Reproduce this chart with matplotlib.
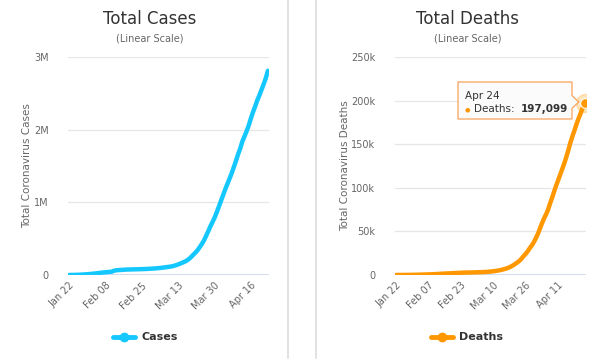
import numpy as np
import pandas as pd
import matplotlib
matplotlib.use('Agg')
import matplotlib.pyplot as plt
from matplotlib.ticker import FuncFormatter
from matplotlib.lines import Line2D
from matplotlib.patches import Polygon

plt.rcParams['font.family'] = ['DejaVu Sans']

dates = pd.date_range('2020-01-22', '2020-04-24', freq='D')

total_cases = [
    580, 845, 1317, 2015, 2800, 4581, 6058, 7813, 9823, 11950,
    14553, 17391, 20630, 24545, 28266, 31439, 34876, 37552, 40553, 43099,
    45134, 59287, 64438, 67100, 69197, 71329, 73332, 75184, 75700, 76677,
    77673, 78651, 79205, 80087, 80828, 81820, 83112, 84615, 86604, 88585,
    90443, 93016, 95314, 98425, 102050, 106099, 109991, 114381, 118948, 126214,
    134576, 145483, 156653, 169593, 182490, 198238, 218822, 244933, 275597, 305036,
    337459, 378830, 422574, 471035, 531865, 596366, 663127, 723390, 784794, 858361,
    935957, 1016128, 1095917, 1176060, 1249754, 1321481, 1396476, 1480202, 1565278, 1657526,
    1735650, 1834721, 1904838, 1976191, 2056055, 2152437, 2240190, 2317759, 2401378, 2472259,
    2549123, 2624571, 2708885, 2811193,
]

total_deaths = [
    17, 25, 41, 56, 80, 106, 132, 170, 213, 259,
    304, 362, 426, 492, 565, 638, 724, 813, 910, 1018,
    1115, 1261, 1383, 1526, 1669, 1775, 1873, 2009, 2126, 2247,
    2360, 2460, 2618, 2699, 2763, 2800, 2858, 2923, 2977, 3050,
    3117, 3202, 3285, 3387, 3494, 3599, 3827, 4025, 4296, 4628,
    4981, 5428, 5833, 6520, 7162, 7979, 8951, 10031, 11386, 13008,
    14642, 16528, 18926, 21811, 24301, 27348, 30865, 33912, 37645, 42334,
    47233, 53221, 59222, 64770, 69473, 74839, 82081, 88566, 95766, 102719,
    108877, 115209, 121629, 128059, 135333, 143304, 151691, 159069, 165651, 172932,
    179270, 185164, 191193, 197099,
]

cases_ticks = [0, 1_000_000, 2_000_000, 3_000_000]
deaths_ticks = [0, 50_000, 100_000, 150_000, 200_000, 250_000]

cyan = '#14c8ff'
orange = '#ff9800'
grid_col = '#e6e6e6'
label_col = '#666666'

fig = plt.figure(figsize=(6, 3.62), dpi=100)


def fmt_cases(v, pos):
    return '0' if v == 0 else f'{int(v / 1e6)}M'


def fmt_deaths(v, pos):
    return '0' if v == 0 else f'{int(v / 1e3)}k'


def setup(ax, values, ticks, fmt, color, step, ylabel, title, cx, name):
    ax.plot(dates, values, color=color, lw=3.2, solid_capstyle='round', zorder=3)
    ax.set_ylim(0, ticks[-1])
    ax.set_yticks(ticks)
    ax.yaxis.set_major_formatter(FuncFormatter(fmt))
    ax.set_xlim(dates[0] - pd.Timedelta(days=0.5), dates[-1] + pd.Timedelta(days=0.5))
    xt = dates[::step]
    ax.set_xticks(xt)
    ax.set_xticklabels([d.strftime('%b %d') for d in xt], rotation=45,
                       ha='right', rotation_mode='anchor', fontsize=7, color=label_col)
    ax.tick_params(axis='y', labelsize=7, colors=label_col, length=0, pad=14)
    ax.tick_params(axis='x', length=0, pad=4)
    for s in ax.spines.values():
        s.set_visible(False)
    ax.grid(axis='y', color=grid_col, lw=0.9)
    ax.axhline(0, color='#ccd6eb', lw=1.2, zorder=2)
    ax.set_ylabel(ylabel, fontsize=7.5, color=label_col, labelpad=1)
    fig.text(cx, 0.948, title, ha='center', va='center', fontsize=12, color='#333333')
    fig.text(cx, 0.893, '(Linear Scale)', ha='center', va='center', fontsize=7, color=label_col)
    # legend
    fig.add_artist(Line2D([cx - 0.062, cx - 0.025], [0.069, 0.069], color=color, lw=3.5,
                          solid_capstyle='round', transform=fig.transFigure))
    fig.add_artist(Line2D([cx - 0.0435], [0.069], marker='o', ms=6, color=color,
                          transform=fig.transFigure))
    fig.text(cx - 0.015, 0.069, name, ha='left', va='center', fontsize=8,
             fontweight='bold', color='#333333')


ax1 = fig.add_axes([0.1133, 0.2403, 0.335, 0.6022])
setup(ax1, total_cases, cases_ticks, fmt_cases, cyan, 17,
      'Total Coronavirus Cases', 'Total Cases', 0.25, 'Cases')

ax2 = fig.add_axes([0.658, 0.2403, 0.318, 0.6022])
setup(ax2, total_deaths, deaths_ticks, fmt_deaths, orange, 16,
      'Total Coronavirus Deaths', 'Total Deaths', 0.78, 'Deaths')

# hovered point
ax2.plot(dates[-1], total_deaths[-1], 'o', ms=13, color=orange, alpha=0.25, zorder=4)
ax2.plot(dates[-1], total_deaths[-1], 'o', ms=7, color=orange, mec='white', mew=0.8, zorder=5)

# tooltip (figure fraction coords)
bl, br, bt, bb = 458 / 600, 572 / 600, 1 - 82 / 362, 1 - 119 / 362
ym = 1 - 102 / 362
tip = Polygon([[bl, bb], [bl, bt], [br, bt], [br, ym + 0.018], [br + 0.011, ym],
               [br, ym - 0.018], [br, bb]], closed=True, transform=fig.transFigure,
              fc='#fbfbfb', ec='#f7a35c', lw=0.9, zorder=10)
fig.add_artist(tip)
fig.text(465 / 600, 1 - 96 / 362, 'Apr 24', fontsize=7.5, color='#333333',
         va='center', ha='left', zorder=11)
fig.text(465 / 600, 1 - 109.5 / 362, '\u25cf', fontsize=4.5, color=orange,
         va='center', ha='left', zorder=11)
fig.text(474 / 600, 1 - 109.5 / 362, 'Deaths:', fontsize=7.5, color='#333333',
         va='center', ha='left', zorder=11)
fig.text(521 / 600, 1 - 109.5 / 362, '197,099', fontsize=7.5, fontweight='bold',
         color='#333333', va='center', ha='left', zorder=11)

# panel separators
for x in (288 / 600, 316 / 600):
    fig.add_artist(Line2D([x, x], [0.012, 1.0], color='#dddddd', lw=1.2,
                          transform=fig.transFigure))

fig.savefig('out.png', dpi=100, facecolor='white')
